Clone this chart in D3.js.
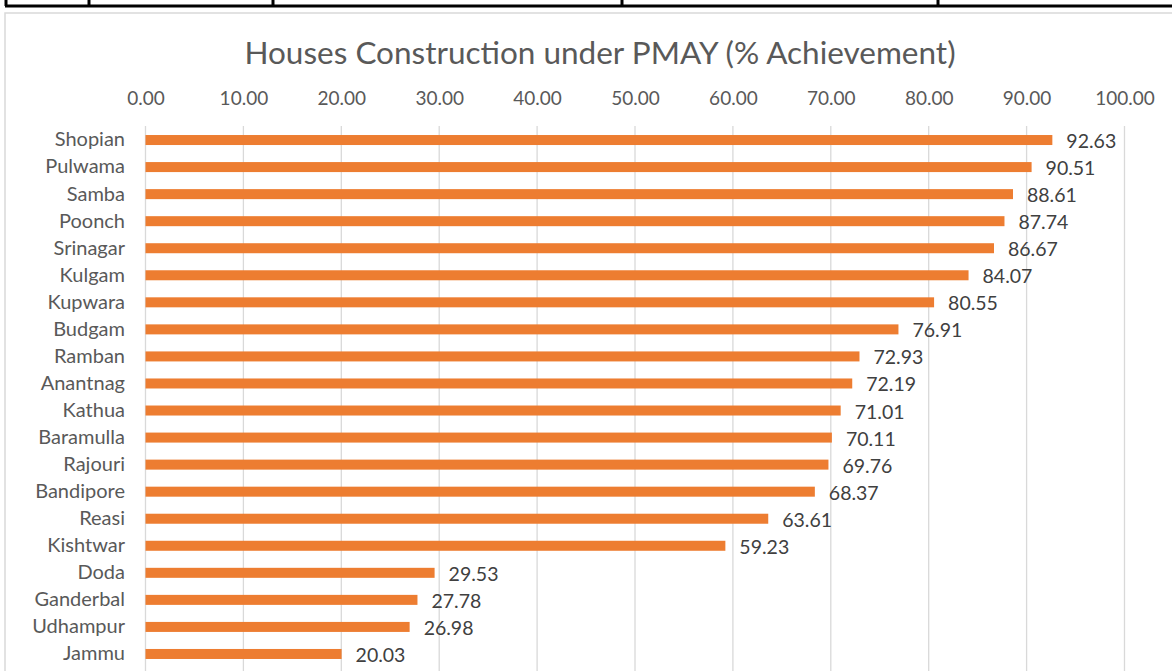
<!DOCTYPE html>
<html>
<head>
<meta charset="utf-8">
<style>
  body { margin: 0; background: #fff; }
  svg { display: block; font-family: Lato, "Open Sans", sans-serif; }
</style>
</head>
<body>
<svg id="chart" width="1172" height="671"></svg>
<script src="https://d3js.org/d3.v7.min.js"></script>
<script>
  // data
  const districts = ['Shopian','Pulwama','Samba','Poonch','Srinagar','Kulgam','Kupwara','Budgam','Ramban','Anantnag',
                     'Kathua','Baramulla','Rajouri','Bandipore','Reasi','Kishtwar','Doda','Ganderbal','Udhampur','Jammu']
  const achievement = [92.63,90.51,88.61,87.74,86.67,84.07,80.55,76.91,72.93,72.19,
                       71.01,70.11,69.76,68.37,63.61,59.23,29.53,27.78,26.98,20.03]
  const xTicks = [0,10,20,30,40,50,60,70,80,90,100]
  const title = 'Houses Construction under PMAY (% Achievement)'

  const svg = d3.select('#chart')

  // table strip above the chart
  svg.append('line')
     .attr('x1', 5).attr('x2', 1172).attr('y1', 6).attr('y2', 6)
     .attr('stroke', '#000').attr('stroke-width', 3)
  ;[6, 89, 273, 622, 938].forEach(x => {
    svg.append('line')
       .attr('x1', x).attr('x2', x).attr('y1', 0).attr('y2', 6)
       .attr('stroke', '#000').attr('stroke-width', 3)
  })

  // chart border
  svg.append('path')
     .attr('d', 'M5,680 V13 H1180')
     .attr('fill', 'none')
     .attr('stroke', '#d9d9d9').attr('stroke-width', 1.5)

  // title
  svg.append('text')
     .attr('x', 600).attr('y', 64)
     .attr('text-anchor', 'middle')
     .attr('font-size', 31.5)
     .attr('fill', '#595959')
     .text(title)

  const x = d3.scaleLinear().domain([0, 100]).range([145.5, 1124.5])
  const y = d3.scaleBand().domain(districts).range([126.5, 667.5]).paddingInner(0.63).paddingOuter(0.315)

  // gridlines
  svg.append('g')
     .selectAll('line')
     .data(xTicks)
     .join('line')
     .attr('x1', d => x(d)).attr('x2', d => x(d))
     .attr('y1', 126).attr('y2', 671)
     .attr('stroke', '#d9d9d9').attr('stroke-width', 1.3)

  // top axis labels
  const xAxis = d3.axisTop(x).tickValues(xTicks).tickFormat(d3.format('.2f')).tickSize(0).tickPadding(0)
  const ax = svg.append('g')
     .attr('transform', 'translate(0,105)')
     .call(xAxis)
  ax.select('.domain').remove()
  ax.selectAll('text')
    .attr('font-family', 'Lato, "Open Sans", sans-serif')
    .attr('font-size', 19)
    .attr('fill', '#595959')

  // category labels
  const ay = svg.append('g')
     .attr('transform', 'translate(125,0)')
     .call(d3.axisLeft(y).tickSize(0).tickPadding(0))
  ay.select('.domain').remove()
  ay.selectAll('text')
    .attr('font-family', 'Lato, "Open Sans", sans-serif')
    .attr('font-size', 20)
    .attr('fill', '#595959')

  // bars
  svg.append('g')
     .selectAll('rect')
     .data(districts)
     .join('rect')
     .attr('x', x(0))
     .attr('y', d => y(d))
     .attr('width', (d, i) => x(achievement[i]) - x(0))
     .attr('height', y.bandwidth())
     .attr('fill', '#ED7D31')

  // value labels
  svg.append('g')
     .selectAll('text')
     .data(districts)
     .join('text')
     .attr('x', (d, i) => x(achievement[i]) + 14)
     .attr('y', d => y(d) + y.bandwidth() / 2 + 8)
     .attr('font-size', 19.5)
     .attr('fill', '#404040')
     .text((d, i) => achievement[i].toFixed(2))
</script>
</body>
</html>
